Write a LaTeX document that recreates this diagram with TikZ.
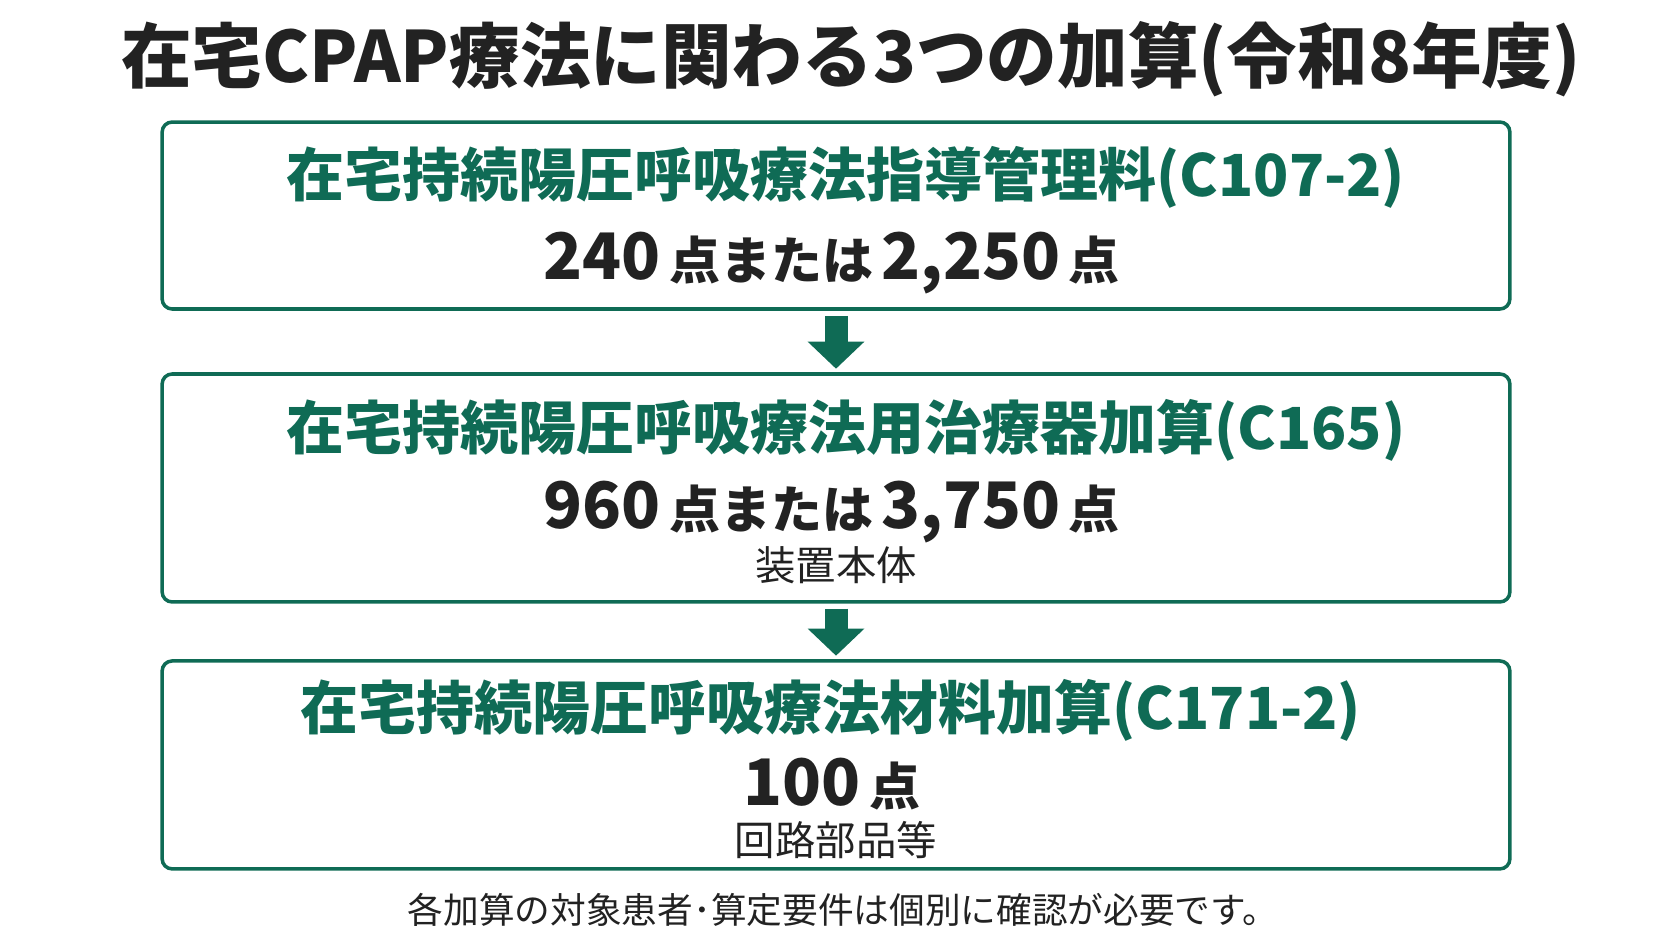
\documentclass[tikz,border=0pt]{standalone}
\usepackage{fontspec}
\setmainfont{Noto Sans CJK JP}
\usepackage{tikz}
\usetikzlibrary{positioning,arrows.meta}
\definecolor{cpapgreen}{HTML}{0F6B55}
\definecolor{cpapdark}{HTML}{222222}
\newcommand{\smpt}[1]{{\fontsize{29}{32}\selectfont\,#1\,}}

\begin{document}
\begin{tikzpicture}[x=0.02cm,y=-0.02cm,
    box/.style={draw=cpapgreen,line width=2pt,rounded corners=5.7pt,
      minimum width=26.96cm,inner sep=0pt},
    headtext/.style={text=cpapgreen,font=\bfseries\fontsize{33}{38}\selectfont,inner sep=0pt},
    pointtext/.style={text=cpapdark,font=\bfseries\fontsize{36.5}{42}\selectfont,inner sep=0pt},
    subtext/.style={text=cpapdark,font=\fontsize{23}{27}\selectfont,inner sep=0pt},
    downarrow/.style={draw=cpapgreen,line width=0.46cm,
      -{Triangle[width=1.1cm,length=0.54cm]},shorten <=0.1cm,shorten >=0.07cm}]
  \useasboundingbox (0,0) rectangle (1672,941);
  \node[text=cpapdark,font=\bfseries\fontsize{40.2}{46}\selectfont,inner sep=0pt] (title) at (851,59)
    {在宅CPAP療法に関わる3つの加算(令和8年度)};
  % boxes
  \node[box,minimum height=3.74cm] (b1) at (836,215.5) {};
  \node[box,minimum height=4.56cm] (b2) [below=1.23cm of b1] {};
  \node[box,minimum height=4.16cm] (b3) [below=1.11cm of b2] {};
  % box texts
  \node[headtext] (h1) at ([xshift=0.2cm,yshift=-1.14cm]b1.north) {在宅持続陽圧呼吸療法指導管理料(C107-2)};
  \node[pointtext] (p1) at ([yshift=-2.85cm]b1.north) {240\smpt{点または}2,250\smpt{点}};
  \node[headtext] (h2) at ([xshift=0.2cm,yshift=-1.16cm]b2.north) {在宅持続陽圧呼吸療法用治療器加算(C165)};
  \node[pointtext] (p2) at ([yshift=-2.79cm]b2.north) {960\smpt{点または}3,750\smpt{点}};
  \node[subtext] (s2) at ([yshift=-3.86cm]b2.north) {装置本体};
  \node[headtext] (h3) at ([xshift=-0.1cm,yshift=-1.02cm]b3.north) {在宅持続陽圧呼吸療法材料加算(C171-2)};
  \node[pointtext] (p3) at ([yshift=-2.5cm]b3.north) {100\smpt{点}};
  \node[subtext] (s3) at ([yshift=-3.62cm]b3.north) {回路部品等};
  \node[subtext,font=\fontsize{20.3}{24}\selectfont] (note) [below=0.78cm of b3.south,anchor=center,xshift=0.14cm]
    {各加算の対象患者･算定要件は個別に確認が必要です。};
  \path
  (b1) edge[downarrow] (b2)
  (b2) edge[downarrow] (b3);
\end{tikzpicture}
\end{document}
